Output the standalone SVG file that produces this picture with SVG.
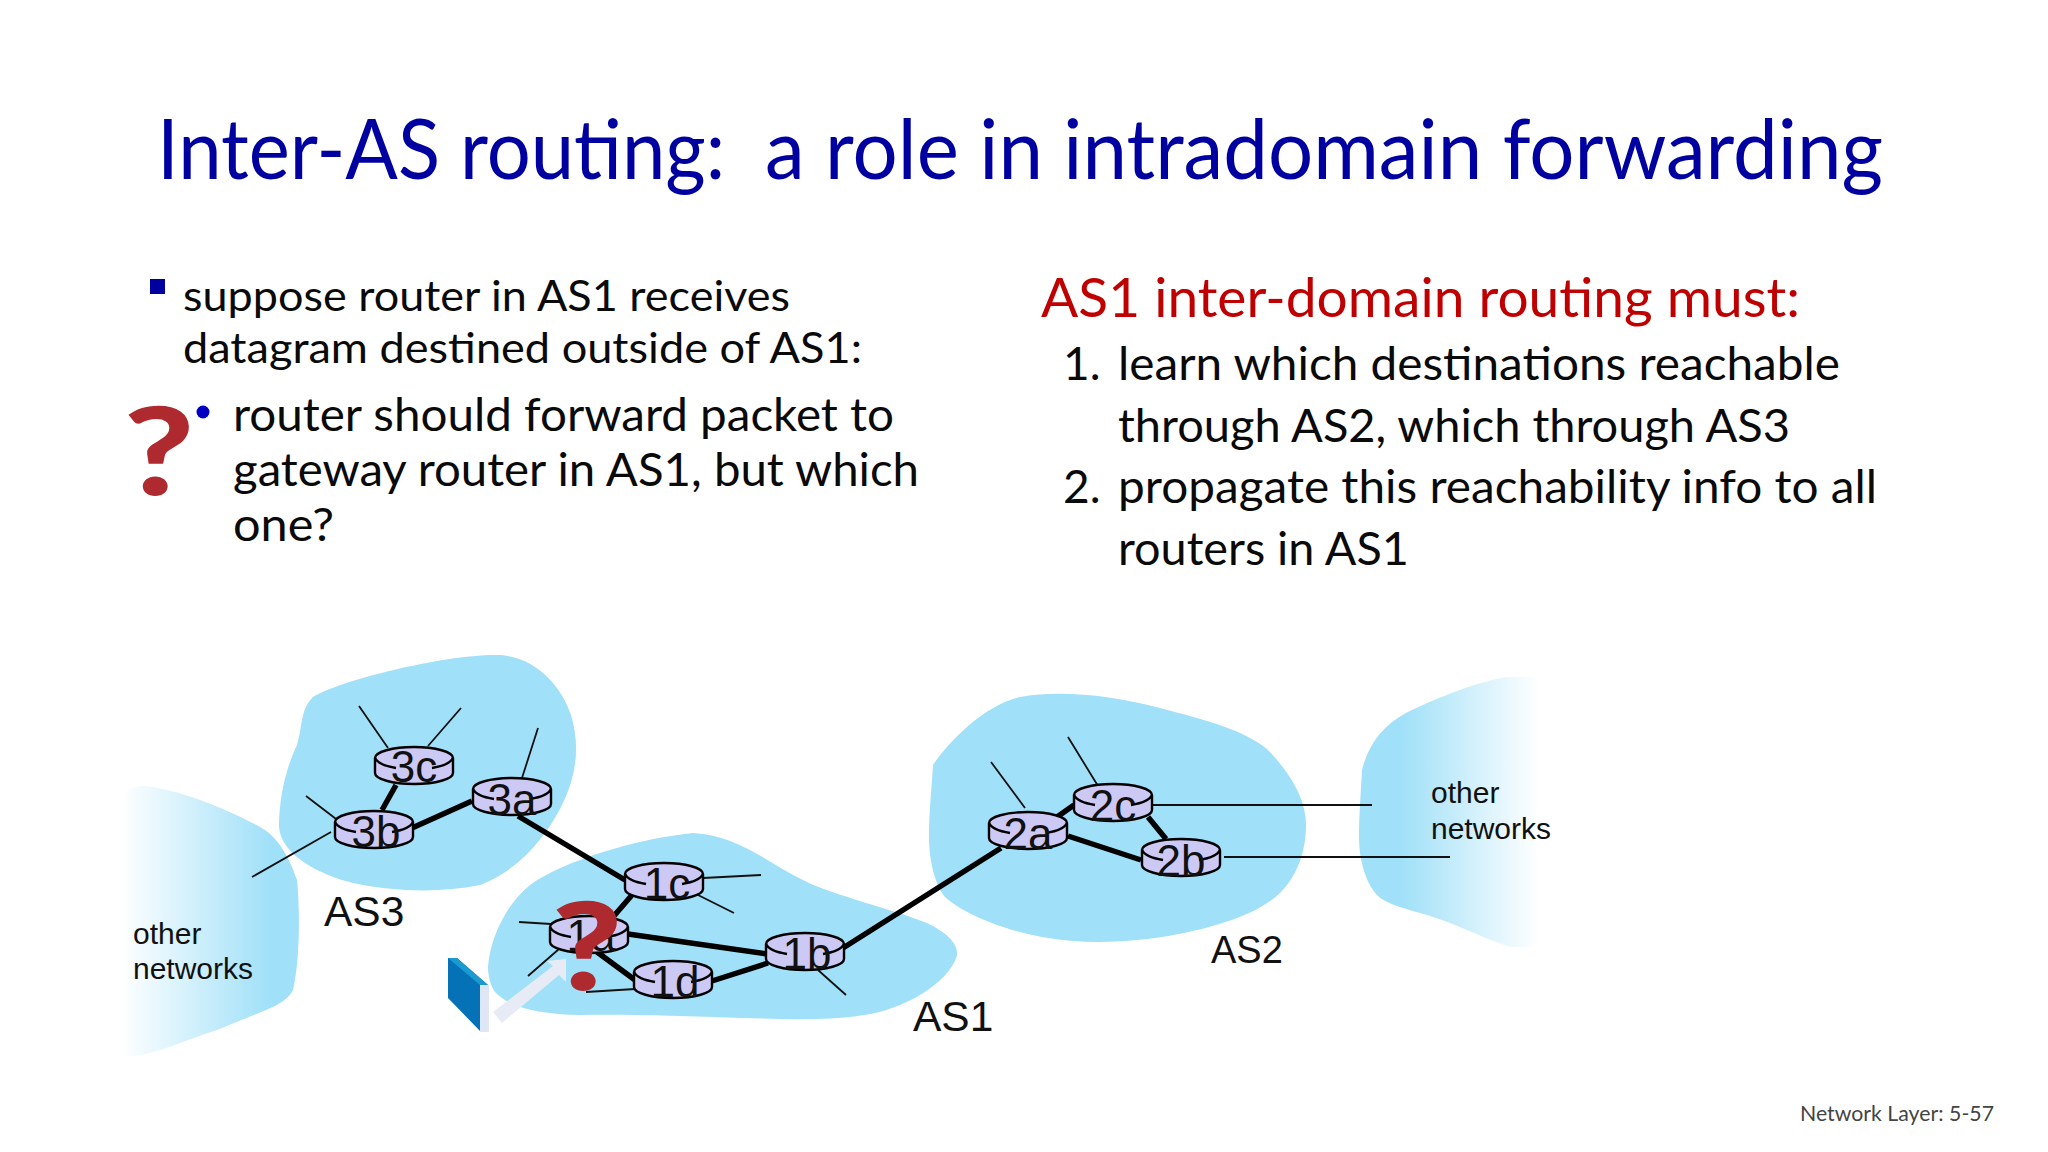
<svg xmlns="http://www.w3.org/2000/svg" xmlns:xlink="http://www.w3.org/1999/xlink" width="2048" height="1152" viewBox="0 0 2048 1152">
<style>
text{white-space:pre}
.c{font-family:Lato,"Open Sans",sans-serif;fill:#0a0a0a}
.b{font-size:43px}
.s{font-size:46px}
.n{font-size:46px}
.a{font-family:"Liberation Sans",Arial,sans-serif;fill:#111}
.r{font-size:44px;text-anchor:middle}
.l{font-size:42.5px}
.o{font-size:30px}
.q{font-family:Lato,"Open Sans",sans-serif;font-weight:900;font-size:122px;fill:#ae2a2e;text-anchor:middle}
.k{fill:#a0e0f8}
.t{stroke:#000;stroke-width:5.5;fill:none}
.h{stroke:#111;stroke-width:1.8;fill:none}
</style>
<defs>
<linearGradient id="gl" gradientUnits="userSpaceOnUse" x1="120" y1="0" x2="270" y2="0"><stop offset="0" stop-color="#fff"/><stop offset="1" stop-color="#a0e0f8"/></linearGradient>
<linearGradient id="gr" gradientUnits="userSpaceOnUse" x1="1400" y1="0" x2="1539" y2="0"><stop offset="0" stop-color="#a0e0f8"/><stop offset="1" stop-color="#fff"/></linearGradient>
<g id="router"><path d="M-39 0V15A39 11 0 0 0 39 15V0A39 11 0 0 0-39 0Z" fill="#cdc9f5" stroke="#000" stroke-width="2.4"/><path d="M-39 0Q-36 7-18 10M18 10Q36 7 39 0" fill="none" stroke="#000" stroke-width="2.4"/></g>
</defs>
<rect width="2048" height="1152" fill="#fff"/>
<text y="179" font-family="Lato,'Open Sans',sans-serif" font-size="84" fill="#0000a0"><tspan x="157" textLength="608" lengthAdjust="spacingAndGlyphs">Inter-AS routing:  </tspan><tspan x="765" textLength="1118" lengthAdjust="spacingAndGlyphs">a role in intradomain forwarding</tspan></text>
<g id="left-text">
<rect x="150" y="279" width="15" height="15" fill="#0000a0"/>
<text class="c b" x="183" y="311" textLength="607" lengthAdjust="spacingAndGlyphs">suppose router in AS1 receives</text>
<text class="c b" x="183" y="363" textLength="679" lengthAdjust="spacingAndGlyphs">datagram destined outside of AS1:</text>
<circle cx="203" cy="412" r="6.5" fill="#0000c0"/>
<text class="c s" x="233" y="431" textLength="661" lengthAdjust="spacingAndGlyphs">router should forward packet to</text>
<text class="c s" x="233" y="486" textLength="686" lengthAdjust="spacingAndGlyphs">gateway router in AS1, but which</text>
<text class="c s" x="233" y="541" textLength="101" lengthAdjust="spacingAndGlyphs">one?</text>
<text class="q" transform="translate(159 495) scale(1.25 1)">?</text>
</g>
<g id="right-text">
<text x="1041" y="317" textLength="759" lengthAdjust="spacingAndGlyphs" font-family="Lato,'Open Sans',sans-serif" font-size="54" fill="#c00000">AS1 inter-domain routing must:</text>
<text class="c n" x="1063" y="380">1.</text>
<text class="c n" x="1118" y="380" textLength="722" lengthAdjust="spacingAndGlyphs">learn which destinations reachable</text>
<text class="c n" x="1118" y="442" textLength="672" lengthAdjust="spacingAndGlyphs">through AS2, which through AS3</text>
<text class="c n" x="1063" y="503">2.</text>
<text class="c n" x="1118" y="503" textLength="759" lengthAdjust="spacingAndGlyphs">propagate this reachability info to all</text>
<text class="c n" x="1118" y="565" textLength="291" lengthAdjust="spacingAndGlyphs">routers in AS1</text>
</g>
<g id="clouds">
<path id="cloud-other-left" fill="url(#gl)" d="M120 797Q130 785 145 786C180 790 225 808 260 827C280 838 290 860 297 880C300 910 300 960 293 990C285 1005 270 1008 217 1030C180 1042 150 1057 122 1057Z"/>
<path id="cloud-as3" class="k" d="M313 697C340 680 450 653 500 655C538 658 562 688 571 715C580 745 577 775 562 805C547 835 520 870 480 885C440 893 395 892 353 883C320 875 281 855 279 827C279 800 285 770 297 745C303 725 300 710 313 697Z"/>
<path id="cloud-as1" class="k" d="M488 967C490 940 505 905 530 885C565 860 640 838 693 833C735 835 765 860 797 877C830 895 880 905 927 923C945 932 958 942 957 955C952 975 925 995 900 1005C870 1018 830 1020 780 1019C700 1017 640 1014 580 1015C540 1014 510 1008 495 992C490 985 488 975 488 967Z"/>
<path id="cloud-as2" class="k" d="M933 765C950 740 985 705 1020 697C1060 690 1110 695 1160 708C1205 720 1245 730 1268 750C1292 775 1306 800 1306 825C1306 850 1298 875 1280 893C1258 915 1208 930 1162 937C1128 942 1085 945 1042 937C1005 930 965 915 945 897C935 885 929 860 929 837C929 810 932 785 933 765Z"/>
<path id="cloud-other-right" fill="url(#gr)" d="M1362 770C1368 745 1383 725 1406 713C1438 697 1478 682 1506 677H1537V947H1511C1488 940 1468 930 1450 923C1423 912 1393 908 1379 897C1366 885 1359 860 1359 837C1359 815 1361 790 1362 770Z"/>
</g>
<g id="connectors">
<path class="t" d="M396 785L382 810M412 828L472 801M518 816L625 880M632 895L613 917M628 934L767 954M597 952L635 980M712 981L768 963M843 948L1001 848M1057 817L1074 805M1068 836L1141 860M1148 817L1166 839"/>
<path class="h" d="M359 706L388 748M461 708L428 746M538 728L522 778M306 796L340 822M252 877L331 832M519 922L551 924M528 976L559 949M703 878L761 875M698 895L734 913M586 992L635 989M818 970L846 995M991 762L1025 808M1068 737L1098 786M1152 805H1372M1224 857H1450"/>
</g>
<g id="r3c"><use xlink:href="#router" href="#router" x="414" y="758"/><text class="a r" x="414" y="782">3c</text></g>
<g id="r3a"><use xlink:href="#router" href="#router" x="512" y="789"/><text class="a r" x="512" y="815">3a</text></g>
<g id="r3b"><use xlink:href="#router" href="#router" x="374" y="822"/><text class="a r" x="376" y="847">3b</text></g>
<g id="r1a"><use xlink:href="#router" href="#router" x="589" y="927"/><text class="a r" x="591" y="951">1a</text></g>
<g id="r1c"><use xlink:href="#router" href="#router" x="664" y="874"/><text class="a r" x="667" y="899">1c</text></g>
<g id="r1b"><use xlink:href="#router" href="#router" x="805" y="944"/><text class="a r" x="807" y="969">1b</text></g>
<g id="r1d"><use xlink:href="#router" href="#router" x="673" y="972"/><text class="a r" x="675" y="997">1d</text></g>
<g id="r2a"><use xlink:href="#router" href="#router" x="1028" y="823"/><text class="a r" x="1028" y="849">2a</text></g>
<g id="r2c"><use xlink:href="#router" href="#router" x="1113" y="795"/><text class="a r" x="1113" y="821">2c</text></g>
<g id="r2b"><use xlink:href="#router" href="#router" x="1181" y="850"/><text class="a r" x="1181" y="876">2b</text></g>
<g id="labels">
<text class="a l" x="324" y="926">AS3</text>
<text class="a l" x="913" y="1031">AS1</text>
<text class="a" font-size="38" x="1211" y="963">AS2</text>
<text class="a o" x="133" y="944">other</text>
<text class="a o" x="133" y="979">networks</text>
<text class="a o" x="1431" y="803">other</text>
<text class="a o" x="1431" y="839">networks</text>
</g>
<g id="datagram">
<path d="M448 958H457L488 985H480V1031L448 998Z" fill="#0572b8"/>
<path d="M448 958H457L488 985H480Z" fill="#1a9ad0"/>
<rect x="480" y="985" width="9" height="47" fill="#dfe7f6"/>
<path d="M493 1012L553 966L547 961L566 959V982L559 975L502 1023Z" fill="#e6ebf6"/>
</g>
<text class="q" transform="translate(587 990) scale(1.25 1)">?</text>
<text x="1800" y="1121" textLength="194" lengthAdjust="spacingAndGlyphs" font-family="Lato,'Open Sans',sans-serif" font-size="21" fill="#444">Network Layer: 5-57</text>
</svg>
